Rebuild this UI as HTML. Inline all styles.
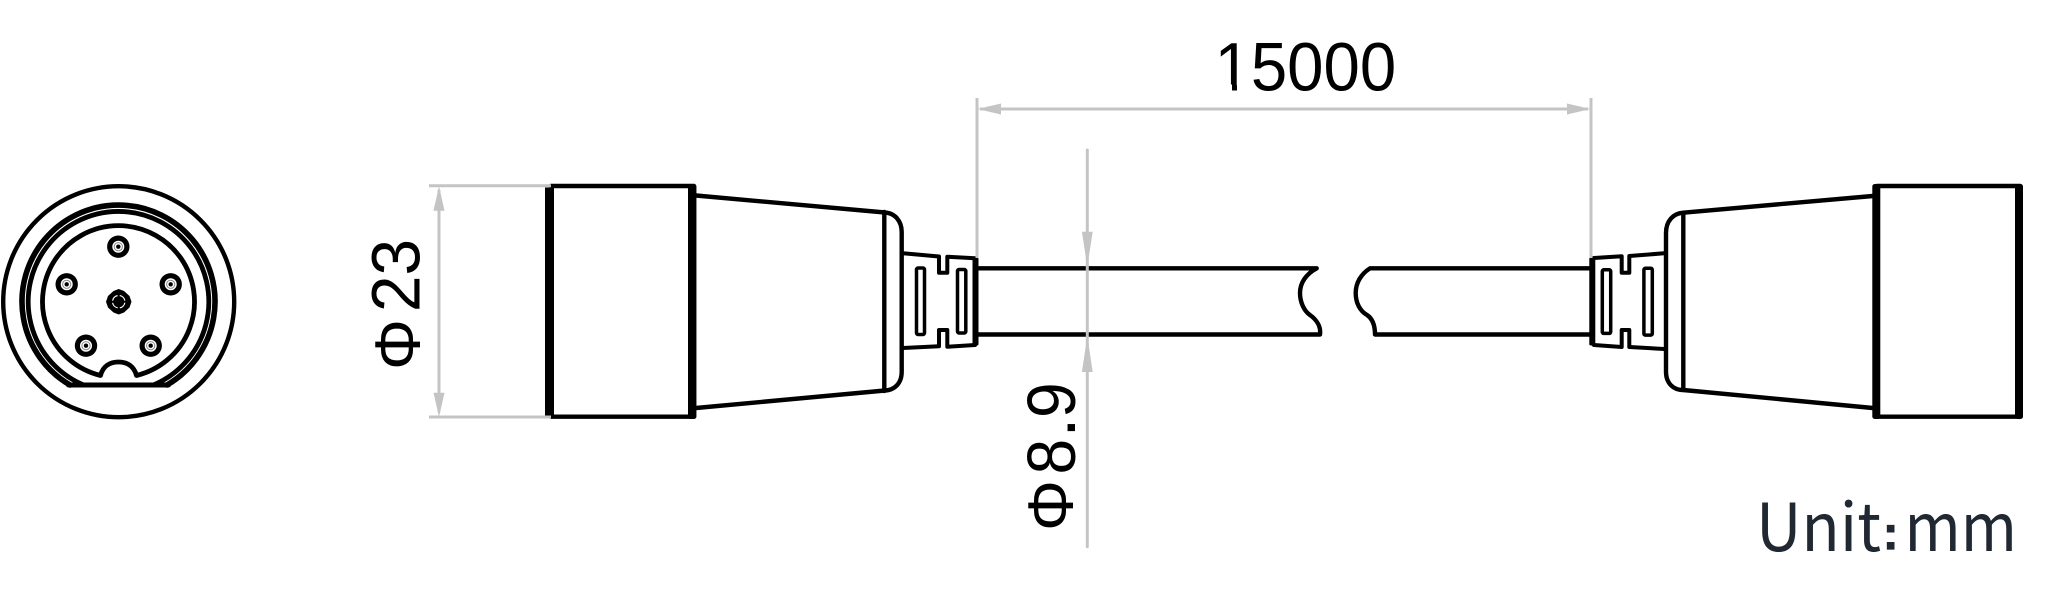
<!DOCTYPE html>
<html>
<head>
<meta charset="utf-8">
<style>
html,body{margin:0;padding:0;background:#fff;width:2048px;height:614px;overflow:hidden}
svg{display:block}
text{font-family:"Liberation Sans",sans-serif;fill:#000}
</style>
</head>
<body>
<svg width="2048" height="614" viewBox="0 0 2048 614" xmlns="http://www.w3.org/2000/svg">
<!-- End view -->
<g fill="none" stroke="#000" stroke-linejoin="round" stroke-linecap="round">
  <circle cx="118.7" cy="301.7" r="115.5" stroke-width="4.4"/>
  <path d="M70 385 A96.5 96.5 0 1 1 167 385" stroke-width="5.6"/>
  <path d="M83.6 385 A90.3 90.3 0 1 1 153.4 385" stroke-width="4.8"/>
  <path d="M68.5 385 H168.5" stroke-width="5"/>
  <path d="M100.5 375.5 A76 76 0 1 1 136.5 375.5 C134 366 127 362 118.5 362 C110 362 103 366 100.5 375.5 Z" stroke-width="4.8"/>
</g>
<g>
  <g id="pins">
    <circle cx="118.3" cy="246.7" r="11.2" fill="#000"/><circle cx="118.3" cy="246.7" r="6" fill="#fff"/><circle cx="118.3" cy="246.7" r="4.6" fill="#888"/><circle cx="118.3" cy="246.7" r="3.6" fill="#fff"/><circle cx="118.3" cy="246.7" r="2.2" fill="#000"/>
    <circle cx="66.7" cy="284.3" r="11.2" fill="#000"/><circle cx="66.7" cy="284.3" r="6" fill="#fff"/><circle cx="66.7" cy="284.3" r="4.6" fill="#888"/><circle cx="66.7" cy="284.3" r="3.6" fill="#fff"/><circle cx="66.7" cy="284.3" r="2.2" fill="#000"/>
    <circle cx="170.7" cy="284.3" r="11.2" fill="#000"/><circle cx="170.7" cy="284.3" r="6" fill="#fff"/><circle cx="170.7" cy="284.3" r="4.6" fill="#888"/><circle cx="170.7" cy="284.3" r="3.6" fill="#fff"/><circle cx="170.7" cy="284.3" r="2.2" fill="#000"/>
    <circle cx="86" cy="345.7" r="11.2" fill="#000"/><circle cx="86" cy="345.7" r="6" fill="#fff"/><circle cx="86" cy="345.7" r="4.6" fill="#888"/><circle cx="86" cy="345.7" r="3.6" fill="#fff"/><circle cx="86" cy="345.7" r="2.2" fill="#000"/>
    <circle cx="150.7" cy="345.7" r="11.2" fill="#000"/><circle cx="150.7" cy="345.7" r="6" fill="#fff"/><circle cx="150.7" cy="345.7" r="4.6" fill="#888"/><circle cx="150.7" cy="345.7" r="3.6" fill="#fff"/><circle cx="150.7" cy="345.7" r="2.2" fill="#000"/>
  </g>
  <path d="M118.7 289 L124 291 L129.5 296 L131.5 301.7 L129.5 307.5 L124 312.5 L118.7 314.5 L113.5 312.5 L108 307.5 L106 301.7 L108 296 L113.5 291 Z" fill="#000"/>
  <circle cx="118.7" cy="301.7" r="6.2" fill="none" stroke="#fff" stroke-width="1.2" stroke-dasharray="7.5 2.2" stroke-dashoffset="-1"/>
  <circle cx="118.7" cy="301.7" r="2.5" fill="#000"/>
</g>

<!-- Left connector -->
<g fill="none" stroke="#000" stroke-linejoin="round" stroke-linecap="round">
  <path d="M551 186 H694 V416.7 H551" stroke-width="4.4"/>
  <rect x="545" y="187.5" width="9" height="228" fill="#000" stroke="none"/>
  <rect x="688" y="184" width="8.4" height="235" rx="2.5" fill="#000" stroke="none"/>
  <path d="M696 195.5 L885 212.5 C895 213.3 901.7 221 901.7 232 V371.7 C901.7 383 895 390 885 390.5 L696 408" stroke-width="4.4"/>
  <path d="M884.3 212 V391" stroke-width="4.4"/>
  <path d="M903 253.3 L939 256.5 V272.7 H947.3 V256.7 L975 258.2 M903 348 L939 346.2 V330 H947.3 V346.7 L975 345" stroke-width="4"/>
  <rect x="972.5" y="257.5" width="6" height="88" rx="1.5" fill="#000" stroke="none"/>
  <rect x="916.5" y="268" width="8" height="66.5" rx="1.5" stroke-width="3.5"/>
  <rect x="957.5" y="269.5" width="8.3" height="63.5" rx="1.5" stroke-width="3.5"/>
</g>

<!-- Cable -->
<g fill="none" stroke="#000" stroke-linejoin="round" stroke-linecap="round" stroke-width="4.4">
  <path d="M978 268.3 H1316.7 C1306 274 1300 283 1300 293 C1300 302 1304 311 1310 315 C1317 320 1321 327 1320 334.5 H978"/>
  <path d="M1590 268.3 H1370 C1361 274 1355.7 283 1355.7 293 C1355.7 303 1360 311 1367 315 C1373 319 1375 326 1375 334.5 H1590"/>
</g>

<!-- Right connector -->
<g fill="none" stroke="#000" stroke-linejoin="round" stroke-linecap="round">
  <path d="M1877 186 H2020 V416.7 H1877" stroke-width="4.4"/>
  <rect x="1872.3" y="184" width="8" height="235" rx="2.5" fill="#000" stroke="none"/>
  <rect x="2015" y="184" width="8" height="235" rx="2.5" fill="#000" stroke="none"/>
  <path d="M1872.7 196 L1683.3 212.7 C1673 213.5 1666 221 1666 233 V371.7 C1666 383 1673 390 1683.3 390 L1872.7 408" stroke-width="4.4"/>
  <path d="M1683.3 213 V390" stroke-width="4.4"/>
  <path d="M1594 258 L1621.7 256.2 V272.7 H1629.3 V256 L1664 253.3 M1594 345 L1621.7 347 V330 H1629.3 V347 L1664 349" stroke-width="4"/>
  <rect x="1589.3" y="257.5" width="6" height="88" rx="1.5" fill="#000" stroke="none"/>
  <rect x="1602.3" y="269.8" width="8.4" height="63.6" rx="1.5" stroke-width="3.5"/>
  <rect x="1643.9" y="268.3" width="8.4" height="66.8" rx="1.5" stroke-width="3.5"/>
</g>

<!-- Dimensions -->
<g stroke="#c4c4c4" stroke-width="3" fill="none">
  <path d="M429 185.7 H551 M429 417 H551 M439 190 V412"/>
  <path d="M977 98 V258 M1591 98 V258 M980 109 H1588"/>
  <path d="M1087.3 150 V546.7" stroke-linecap="round"/>
</g>
<g fill="#c4c4c4" stroke="none">
  <path d="M439 186 L444.5 210.7 H433.5 Z"/>
  <path d="M439 417 L444.5 392.7 H433.5 Z"/>
  <path d="M977.5 109 L1001 103.5 V114.5 Z"/>
  <path d="M1590.5 109 L1567 103.5 V114.5 Z"/>
  <path d="M1087.3 266.7 L1092.7 231.7 H1081.9 Z"/>
  <path d="M1087.3 335.7 L1092.7 372 H1081.9 Z"/>
</g>

<!-- Labels -->
<text transform="translate(1214.5,90.5) scale(.947,1)" font-size="69">15000</text>
<rect x="1214" y="84.5" width="18" height="7.5" fill="#fff"/>
<rect x="1237" y="84.5" width="13.5" height="7.5" fill="#fff"/>
<text transform="translate(419.5,312) rotate(-90) scale(.95,1)" font-size="69">23</text>
<text transform="translate(420,370) rotate(-90)" font-size="64">Φ</text>
<text transform="translate(1075,474.5) rotate(-90) scale(.93,1)" font-size="69">8</text>
<text transform="translate(1075,434.5) rotate(-90)" font-size="50" font-weight="700">.</text>
<text transform="translate(1075,418) rotate(-90) scale(.93,1)" font-size="69">9</text>
<text transform="translate(1073,531) rotate(-90)" font-size="64">Φ</text>

<g>
  <text transform="translate(1756,551) scale(.955,1)" font-size="66" style="font-family:'Noto Sans CJK SC','Liberation Sans',sans-serif;font-weight:400;fill:#202833">Unit</text>
  <text x="1883" y="549" font-size="46" font-weight="700" style="fill:#202833;stroke:#202833;stroke-width:1.2">:</text>
  <text transform="translate(1904.5,551) scale(.92,1)" font-size="66" style="font-family:'Noto Sans CJK SC','Liberation Sans',sans-serif;font-weight:400;fill:#202833">mm</text>
</g>
</svg>
</body>
</html>
